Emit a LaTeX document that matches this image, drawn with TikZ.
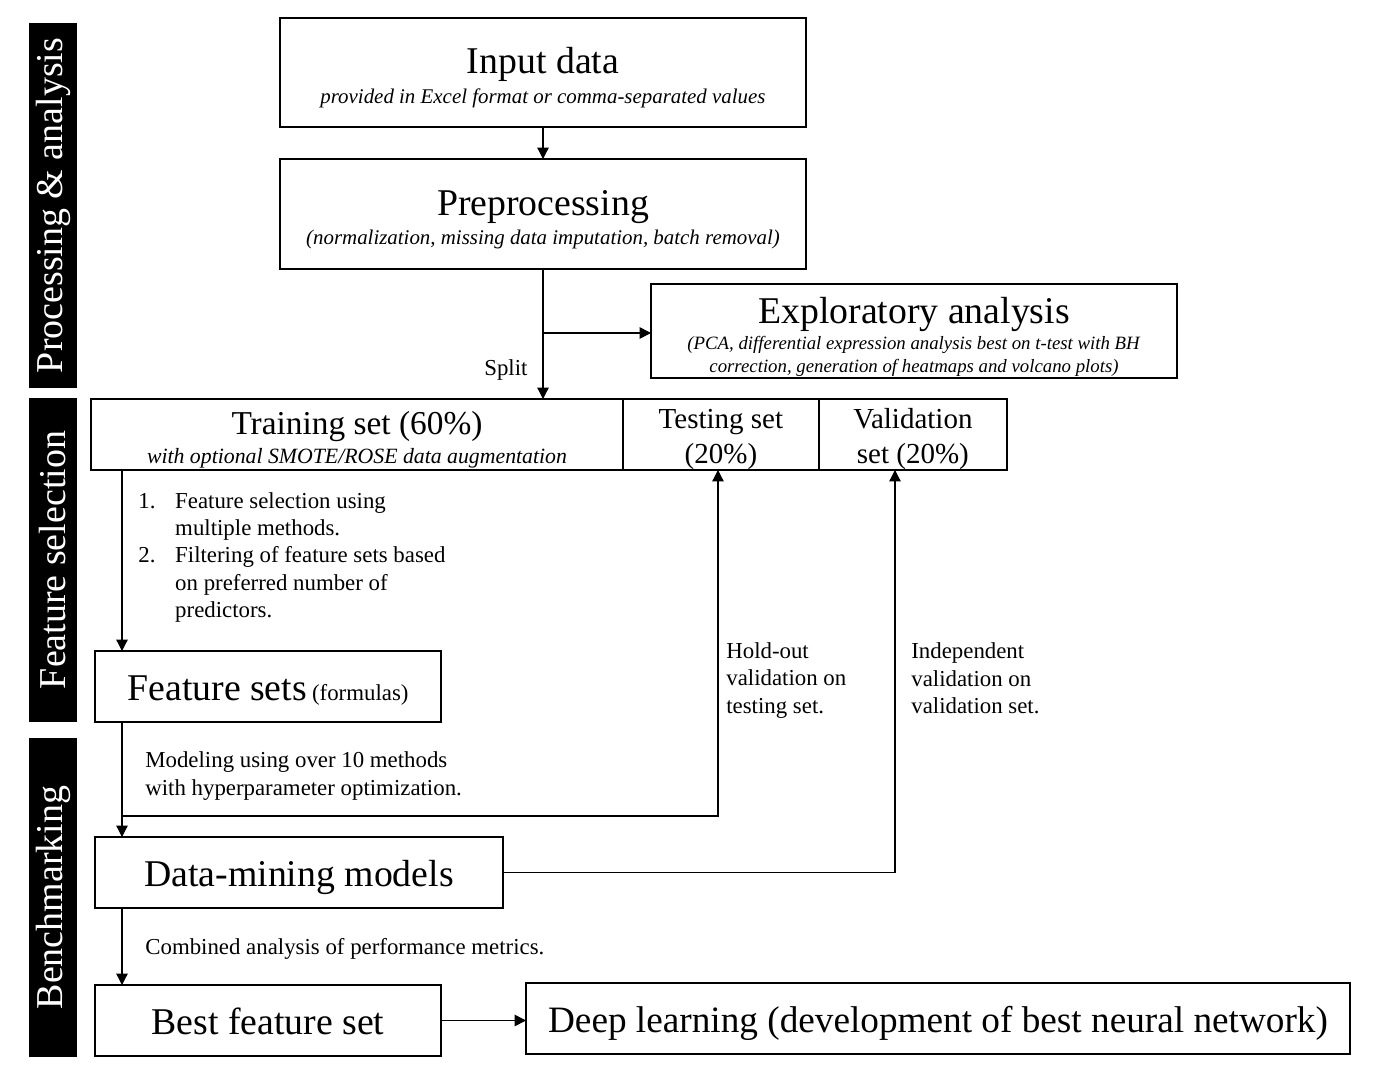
\documentclass[tikz,border=0pt]{standalone}
\usepackage{fontspec}
\setmainfont{Liberation Serif}
\usetikzlibrary{positioning,arrows.meta}
\newcommand\ttl[1]{{\fontsize{21.5}{25}\selectfont #1}}

\begin{document}
\begin{tikzpicture}[x=0.02cm,y=-0.02cm,
    box/.style={draw,line width=1.1pt,inner sep=0pt,outer sep=0pt,align=center,font=\fontsize{11.9}{14.5}\selectfont},
    one/.style={box,minimum height=1.42cm,text height=16pt,text depth=0pt},
    bar/.style={fill=black,text=white,rotate=90,minimum height=0.96cm,inner sep=0pt,font=\fontsize{21.6}{25}\selectfont},
    arr/.style={-{Triangle[length=6.5pt,width=6.5pt]},line width=0.7pt},
    note/.style={align=left,inner sep=0pt,font=\fontsize{13}{15.6}\selectfont}]
  \useasboundingbox (0,0) rectangle (1384,1071);
  % side bars
  \node[bar,minimum width=7.3cm] (pbar) at (53,205.5) {Processing \& analysis};
  \node[bar,minimum width=6.48cm] (fbar) at (53,560) {Feature selection};
  \node[bar,minimum width=6.38cm] (bbar) at (53,897.5) {Benchmarking};
  % boxes
  \node[box,minimum width=10.52cm,minimum height=2.18cm] (inp) at (543,72.5)
    {\ttl{\rule{0pt}{21pt}Input data}\\[2.3pt]\textit{provided in Excel format or comma-separated values}};
  \node[box,minimum width=10.52cm,minimum height=2.2cm] (pre) at (543,214)
    {\ttl{\rule{0pt}{21pt}Preprocessing}\\[2.3pt]\textit{(normalization, missing data imputation, batch removal)}};
  \node[box,minimum width=10.52cm,minimum height=1.88cm,font=\fontsize{10.7}{13.1}\selectfont] (exp) at (914,331)
    {\ttl{\rule{0pt}{21.5pt}Exploratory analysis}\\[2pt]\textit{(PCA, differential expression analysis best on t-test with BH}\\
     \textit{correction, generation of heatmaps and volcano plots)}};
  \node[box,minimum width=10.64cm,minimum height=1.42cm,font=\fontsize{12.4}{14.5}\selectfont] (train) at (357,434.5)
    {{\fontsize{19}{21}\selectfont\rule{0pt}{19.3pt}Training set (60\%)}\\[2.3pt]\textit{with optional SMOTE/ROSE data augmentation}};
  \node[box,right=0pt of train,minimum width=3.92cm,minimum height=1.42cm,font=\fontsize{16.5}{20.2}\selectfont] (test)
    {\rule{0pt}{16.5pt}Testing set\\(20\%)};
  \node[box,right=0pt of test,minimum width=3.76cm,minimum height=1.42cm,font=\fontsize{16.5}{20.2}\selectfont] (valid)
    {\rule{0pt}{16.5pt}Validation\\set (20\%)};
  \node[one,minimum width=6.92cm] (fset) at (268,686.5)
    {\ttl{Feature sets} {\fontsize{13}{15}\selectfont(formulas)}};
  \node[one,minimum width=8.16cm] (dmm) at (299,872.5) {\ttl{Data-mining models}};
  \node[one,minimum width=6.92cm] (best) at (268,1020.5) {\ttl{Best feature set}};
  \node[one,minimum width=16.48cm] (deep) at (938,1018.5)
    {{\fontsize{21.2}{25}\selectfont Deep learning (development of best neural network)}};
  % notes
  \node[note,anchor=west] (split) at (484,370) {Split};
  \node[note,anchor=west] (steps) at (138,557.5)
    {\makebox[21pt][l]{1.}Feature selection using\\\hspace*{21pt}multiple methods.\\
     \makebox[21pt][l]{2.}Filtering of feature sets based\\\hspace*{21pt}on preferred number of\\
     \hspace*{21pt}predictors.};
  \node[note,anchor=west] (model) at (145,776) {Modeling using over 10 methods\\with hyperparameter optimization.};
  \node[note,anchor=west] (comb) at (145,949) {Combined analysis of performance metrics.};
  \node[note,anchor=west] (hold) at (726,680.5) {Hold-out\\validation on\\testing set.};
  \node[note,anchor=west] (indep) at (911,678.5) {Independent\\validation on\\validation set.};
  % connectors
  \coordinate (lx) at (122,0);
  \coordinate (sp) at (543,333);
  \coordinate (hx) at (718,816);
  \coordinate (vx) at (895,0);
  \draw[arr] (inp) -- (pre);
  \draw[arr] (pre.south) -- (pre.south |- train.north);
  \draw[arr] (sp) -- (sp -| exp.west);
  \draw[arr] (lx |- train.south) -- (lx |- fset.north);
  \draw[arr] (lx |- fset.south) -- (lx |- dmm.north);
  \draw[arr] (lx |- hx) -- (hx) -- (hx |- test.south);
  \draw[arr] (dmm.east) -- (vx |- dmm.east) -- (vx |- valid.south);
  \draw[arr] (lx |- dmm.south) -- (lx |- best.north);
  \draw[arr] (best.east) -- (best.east -| deep.west);
\end{tikzpicture}
\end{document}
